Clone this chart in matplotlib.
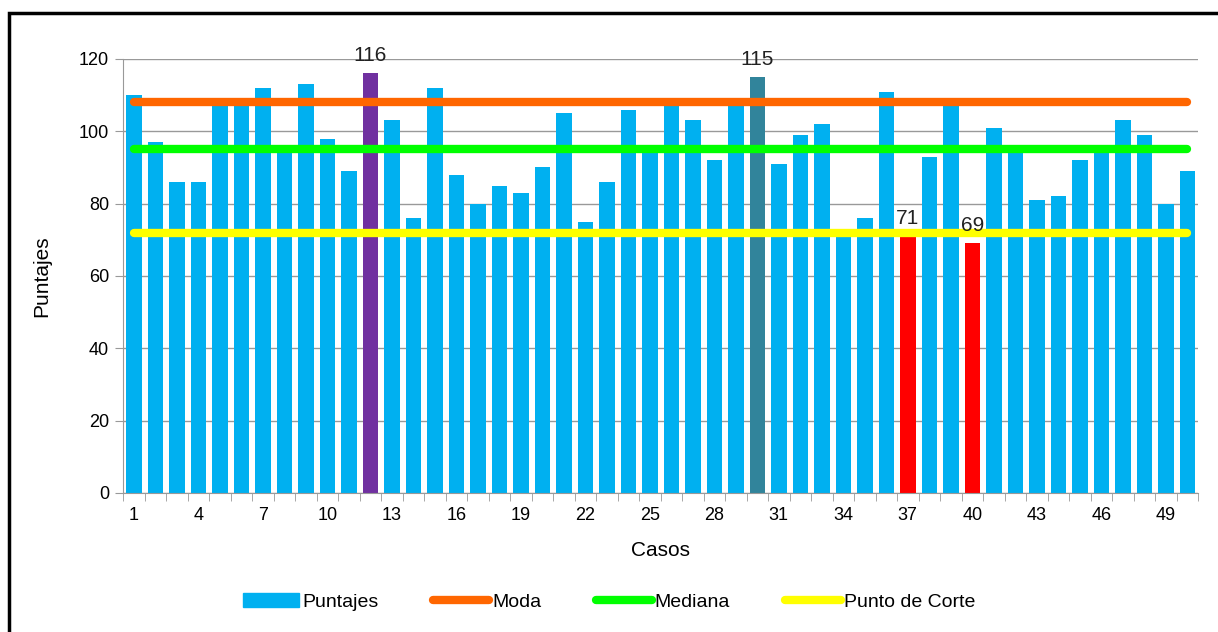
import matplotlib.pyplot as plt
from matplotlib.patches import Rectangle, Patch
from matplotlib.lines import Line2D
import numpy as np

plt.rcParams['font.family'] = ['Liberation Sans', 'DejaVu Sans']

casos = list(range(1, 51))
puntajes = [110, 97, 86, 86, 108, 108, 112, 95, 113, 98,
            89, 116, 103, 76, 112, 88, 80, 85, 83, 90,
            105, 75, 86, 106, 95, 108, 103, 92, 108, 115,
            91, 99, 102, 72, 76, 111, 71, 93, 108, 69,
            101, 95, 81, 82, 92, 95, 103, 99, 80, 89]
moda = 108
mediana = 95
punto_corte = 72
# bars highlighted with their own colour and a value label
destacados = {12: '#7030A0', 30: '#31849B', 37: '#FF0000', 40: '#FF0000'}
xticks = list(range(1, 51, 3))

fig = plt.figure(figsize=(12.18, 6.32), dpi=100)
ax = fig.add_axes([0.101, 0.22, 0.8826, 0.6867])

colores = [destacados.get(c, '#00B0F0') for c in casos]
ax.bar(casos, puntajes, width=0.72, color=colores, zorder=2)

for c, col in destacados.items():
    v = puntajes[c - 1]
    ax.annotate(str(v), (c, v), xytext=(0, 6), textcoords='offset points',
                ha='center', va='bottom', fontsize=15, color='#222222', zorder=5)

lw = 6
ax.plot([casos[0], casos[-1]], [moda, moda], color='#FF6600', lw=lw,
        solid_capstyle='round', zorder=3)
ax.plot([casos[0], casos[-1]], [mediana, mediana], color='#00FF00', lw=lw,
        solid_capstyle='round', zorder=3)
ax.plot([casos[0], casos[-1]], [punto_corte, punto_corte], color='#FFFF00', lw=lw,
        solid_capstyle='round', zorder=3)

ax.set_xlim(0.5, 50.5)
ax.set_ylim(0, 120)
ax.set_yticks(range(0, 121, 20))
ax.yaxis.grid(True, color='#999999', lw=1)
ax.set_axisbelow(True)

ax.set_xticks(xticks)
ax.set_xticks(np.arange(0.5, 51, 1), minor=True)
ax.tick_params(axis='x', which='major', length=0, pad=10, labelsize=13)
ax.tick_params(axis='x', which='minor', length=6, color='#999999')
ax.tick_params(axis='y', length=6, color='#999999', labelsize=13, pad=4)

for s in ['top', 'right']:
    ax.spines[s].set_visible(False)
for s in ['left', 'bottom']:
    ax.spines[s].set_color('#999999')

ax.set_xlabel('Casos', fontsize=15, labelpad=12)
ax.set_ylabel('Puntajes', fontsize=15, labelpad=20)

handles = [Patch(color='#00B0F0'),
           Line2D([], [], color='#FF6600', lw=6, solid_capstyle='round'),
           Line2D([], [], color='#00FF00', lw=6, solid_capstyle='round'),
           Line2D([], [], color='#FFFF00', lw=6, solid_capstyle='round')]
fig.legend(handles, ['Puntajes', 'Moda', 'Mediana', 'Punto de Corte'],
           loc='center', bbox_to_anchor=(0.5, 0.047), ncol=4, frameon=False,
           fontsize=14, handlelength=2.9, handletextpad=0.15, columnspacing=2.8)

# outer frame
fig.patches.append(Rectangle((9 / 1218, -0.05), 1.2, 1 - 13 / 632 + 0.05,
                             transform=fig.transFigure, fill=False,
                             edgecolor='black', lw=2.5))

fig.savefig('out.png', dpi=100)
